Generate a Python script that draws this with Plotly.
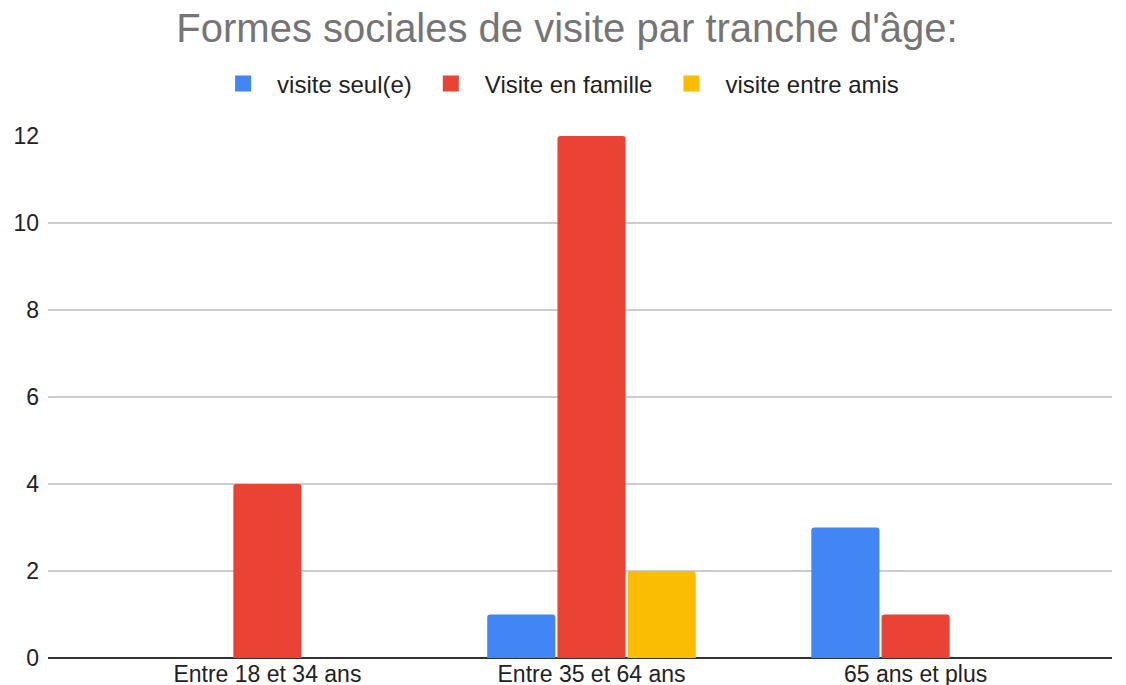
import plotly.graph_objects as go

categories = ["Entre 18 et 34 ans", "Entre 35 et 64 ans", "65 ans et plus"]
seul = [0, 1, 3]
famille = [4, 12, 1]
amis = [0, 2, 0]
series_names = ["visite seul(e)", "Visite en famille", "visite entre amis"]
colors = ["#4285F4", "#EA4335", "#FBBC04"]

fig = go.Figure()
for name, vals, col in zip(series_names, [seul, famille, amis], colors):
    fig.add_trace(go.Bar(x=categories, y=vals, name=name, showlegend=False,
                         marker=dict(color=col, line=dict(width=0))))
# legend entries with larger square swatches
for name, col in zip(series_names, colors):
    fig.add_trace(go.Scatter(x=[None], y=[None], mode="markers", name=name,
                             marker=dict(symbol="square", size=16, color=col), hoverinfo="skip"))

# page body has an 8px default margin; compensate
fig.update_layout(
    width=1118, height=677, autosize=False,
    paper_bgcolor="white", plot_bgcolor="white",
    font=dict(family="Liberation Sans, Arial, sans-serif", color="#000000", size=24),
    title=dict(text="Formes sociales de visite par tranche d'âge:", x=0.5, xref="container",
               xanchor="center", y=(677 - 20) / 677, yanchor="middle", yref="container",
               font=dict(size=40, color="#757575"), automargin=False),
    margin=dict(l=40, r=14, t=128, b=27, autoexpand=False),
    barmode="group", bargap=0.35, bargroupgap=0.03, barcornerradius=3,
    showlegend=True,
    legend=dict(orientation="h", x=0.478, xanchor="center",
                y=1.10, yanchor="middle", font=dict(size=24, color="#222222"),
                itemclick=False, traceorder="normal", itemwidth=58),
    xaxis=dict(range=[-0.677, 2.606], showgrid=False, ticks="", tickfont=dict(size=23, color="#222222"),
               showline=False, tickangle=0, automargin=False),
    yaxis=dict(range=[0, 12], dtick=2, showgrid=True, gridcolor="#cccccc", gridwidth=1.5,
               zeroline=True, zerolinecolor="#333333", zerolinewidth=2, automargin=False,
               tickfont=dict(size=23, color="#222222"), ticks="", ticklabelstandoff=8),
)
fig.write_html("out.html")
